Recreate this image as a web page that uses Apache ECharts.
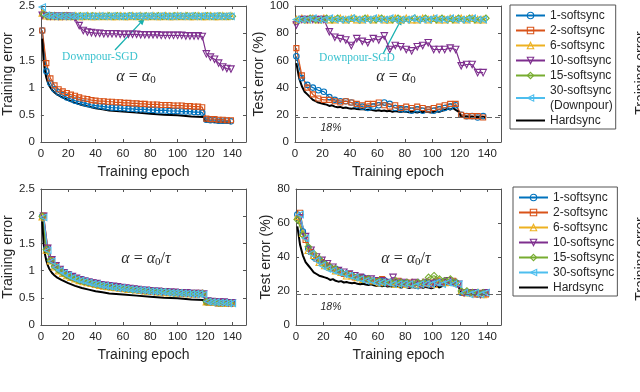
<!DOCTYPE html>
<html>
<head>
<meta charset="utf-8">
<script src="https://cdn.jsdelivr.net/npm/echarts@6/dist/echarts.min.js"></script>
<style>
html, body { margin: 0; padding: 0; background: #fff; }
#chart { width: 640px; height: 392px; }
</style>
</head>
<body>
<div id="chart"></div>
<script>
// epochs at which the softsync curves were sampled
const ep3 = [1,4,7,10,13,16,19,22,25,28,31,34,37,40,43,46,49,52,55,58,61,64,67,70,73,76,79,82,85,88,91,94,97,100,103,106,109,112,115,118,121,124,127,130,133,136,139];
const ep3s = [2,5,8,11,14,17,20,23,26,29,32,35,38,41,44,47,50,53,56,59,62,65,68,71,74,77,80,83,86,89,92,95,98,101,104,107,110,113,116,119,122,125,128,131,134,137,140];
const ep4 = [1,5,9,13,17,21,25,29,33,37,41,45,49,53,57,61,65,69,73,77,81,85,89,93,97,101,105,109,113,117,121,125,129,133,137];
const ep4s = [3,7,11,15,19,23,27,31,35,39,43,47,51,55,59,63,67,71,75,79,83,87,91,95,99,103,107,111,115,119,123,127,131,135,139];

// hardsync (same run in both rows)
const hsTrainEp = [1,2,3,4,5,6,8,10,12,15,20,25,30,35,40,45,50,60,70,80,90,100,110,119,120,125,130,135,139];
const hsTrain = [1.90,1.50,1.30,1.18,1.10,1.04,0.96,0.91,0.87,0.83,0.77,0.72,0.68,0.65,0.62,0.60,0.58,0.56,0.54,0.52,0.50,0.49,0.47,0.46,0.38,0.37,0.36,0.36,0.35];
const hsTestEp = [1,3,5,7,9,11,13,15,17,19,21,23,25,27,29,31,33,35,37,39,41,43,45,47,49,51,53,55,57,59,61,63,65,67,69,71,73,75,77,79,81,83,85,87,89,91,93,95,97,99,101,103,105,107,109,111,113,115,117,119,121,123,125,127,129,131,133,135,137,139];
const hsTest = [58,47,41,37,35,33,31,30,29,28.5, 28,27.5,26.5,27,26,25.5,25.8,25,25.3,24.8,
  24.5,24.8,24.2,24.0,24.3,23.8,23.5,23.9,23.3,23.0, 23.4,22.8,23.2,22.6,22.9,22.3,22.7,22.4,22.0,22.5,
  22.2,21.8,22.4,22.0,21.7,22.3,21.9,22.4,22.0,21.6, 22.2,22.6,22.1,22.9,23.5,24.5,23.8,25.0,23.6,22.4,
  18.6,18.4,18.7,18.3,18.5,18.2,18.4,18.1,18.3,18.2];
const targetErr = 18;

// training error, alpha = alpha0
const trA1 = [2.05,1.30,1.08,0.97,0.91,0.86,0.82,0.79,0.76,0.74, 0.72,0.70,0.68,0.67,0.66,0.65,0.64,0.63,0.63,0.62,
  0.62,0.61,0.61,0.60,0.60,0.60,0.59,0.59,0.58,0.58, 0.58,0.57,0.57,0.57,0.56,0.56,0.56,0.55,0.55,0.54, 0.41,0.40,0.40,0.39,0.39,0.39,0.38];
const trA2 = [2.05,1.45,1.17,1.04,0.97,0.93,0.90,0.87,0.85,0.82, 0.80,0.79,0.77,0.76,0.75,0.75,0.74,0.74,0.73,0.73,
  0.72,0.72,0.71,0.71,0.70,0.70,0.69,0.69,0.69,0.68, 0.68,0.68,0.67,0.67,0.67,0.66,0.66,0.65,0.65,0.64, 0.43,0.42,0.42,0.41,0.41,0.40,0.40];
const trA6 = [2.37,2.32,2.31,2.32,2.31,2.31,2.32,2.31,2.32,2.31, 2.31,2.32,2.31,2.31,2.32,2.31,2.32,2.31,2.31,2.32,
  2.31,2.31,2.32,2.31,2.32,2.31,2.31,2.32,2.31,2.31, 2.32,2.31,2.31,2.32,2.31,2.32,2.31,2.31,2.32,2.31, 2.31,2.32,2.31,2.31,2.32,2.31,2.32];
const trA10 = [2.33,2.32,2.31,2.31,2.31,2.31,2.31,2.31,2.28,2.14, 2.05,2.02,2.01,2.00,2.00,1.99,1.99,1.99,1.99,1.98,
  1.98,1.98,1.98,1.98,1.97,1.97,1.97,1.97,1.97,1.96, 1.96,1.96,1.96,1.96,1.96,1.95,1.95,1.95,1.95,1.94, 1.62,1.56,1.52,1.45,1.38,1.35,1.34];
const trA15 = [2.35,2.31,2.32,2.31,2.31,2.32,2.31,2.31,2.31,2.32, 2.31,2.31,2.32,2.31,2.31,2.31,2.32,2.31,2.32,2.31,
  2.31,2.32,2.31,2.31,2.31,2.32,2.31,2.31,2.32,2.31, 2.31,2.31,2.32,2.31,2.31,2.32,2.31,2.32,2.31,2.31, 2.32,2.31,2.31,2.32,2.31,2.31,2.31];
const trA30 = [2.48,2.33,2.32,2.31,2.32,2.31,2.31,2.32,2.31,2.31, 2.32,2.31,2.31,2.31,2.32,2.31,2.31,2.32,2.31,2.31,
  2.31,2.32,2.31,2.32,2.31,2.31,2.32,2.31,2.31,2.32, 2.31,2.31,2.31,2.32,2.31,2.31,2.32,2.31,2.31,2.32, 2.31,2.31,2.32,2.31,2.31,2.32,2.31];

// test error, alpha = alpha0
const teA1 = [63,47,42,40,38,37,33,31,30,30, 29,27,26,25,26,27,29,28,25,24, 24,23,24,23,24,23,24,25,26,27, 20,19,19,18,19];
const teA2 = [69,49,40,35,32,31,31,30,29,30, 29,28,27,28,28,29,27,26,27,25, 26,25,26,25,24,25,26,27,28,28, 20,19,19,19,18];
const teA6 = [90,91,90,91,90,91,90,90,91,90, 91,90,90,91,90,91,90,90,91,90, 91,90,90,91,90,91,90,90,91,90, 91,90,91,90,90];
const teA10 = [86,90,90,90,90,90,81,77,76,75, 71,76,74,73,76,75,78,68,71,70, 68,67,70,71,73,68,68,68,69,68, 56,57,57,51,51];
const teA15 = [90,90,91,90,90,91,90,91,90,90, 91,90,91,90,90,91,90,90,91,90, 90,91,90,91,90,90,91,90,90,91, 90,91,90,90,91];
const teA30 = [90,90,90,91,90,90,91,90,90,90, 91,90,90,90,91,90,90,91,90,90, 90,91,90,90,90,91,90,90,91,90, 90,90,91,90,90];

// training error, alpha = alpha0 / tau
const trB1 = [2.00,1.40,1.19,1.08,1.01,0.96,0.92,0.88,0.85,0.83, 0.81,0.79,0.77,0.75,0.74,0.72,0.71,0.70,0.69,0.68,
  0.67,0.66,0.65,0.65,0.64,0.63,0.62,0.62,0.61,0.61, 0.60,0.60,0.59,0.59,0.58,0.58,0.58,0.57,0.57,0.57, 0.44,0.43,0.42,0.42,0.41,0.41,0.40];
const trB2 = [2.01,1.42,1.20,1.09,1.02,0.97,0.93,0.89,0.86,0.83, 0.81,0.79,0.78,0.76,0.74,0.73,0.72,0.70,0.69,0.69,
  0.68,0.67,0.66,0.65,0.64,0.64,0.63,0.62,0.62,0.61, 0.61,0.60,0.60,0.59,0.59,0.58,0.58,0.58,0.57,0.57, 0.44,0.43,0.43,0.42,0.42,0.41,0.41];
const trB6 = [1.99,1.38,1.18,1.07,1.00,0.95,0.91,0.88,0.85,0.82, 0.80,0.78,0.77,0.75,0.73,0.72,0.71,0.70,0.69,0.68,
  0.67,0.66,0.66,0.65,0.64,0.63,0.63,0.62,0.61,0.61, 0.60,0.60,0.60,0.59,0.59,0.58,0.58,0.57,0.58,0.58, 0.43,0.43,0.42,0.41,0.41,0.40,0.40];
const trB10 = [2.00,1.41,1.20,1.09,1.02,0.96,0.92,0.89,0.86,0.83, 0.81,0.79,0.77,0.76,0.74,0.73,0.72,0.71,0.70,0.69,
  0.68,0.67,0.66,0.65,0.64,0.64,0.63,0.62,0.62,0.61, 0.61,0.60,0.60,0.59,0.59,0.59,0.58,0.58,0.58,0.57, 0.44,0.43,0.42,0.42,0.42,0.41,0.41];
const trB15 = [2.00,1.39,1.19,1.08,1.01,0.96,0.91,0.88,0.85,0.82, 0.80,0.78,0.77,0.75,0.74,0.72,0.71,0.70,0.69,0.68,
  0.67,0.66,0.65,0.65,0.64,0.63,0.63,0.62,0.61,0.61, 0.61,0.60,0.59,0.59,0.59,0.58,0.58,0.58,0.57,0.58, 0.43,0.43,0.42,0.41,0.41,0.41,0.40];
const trB30 = [1.98,1.37,1.17,1.06,1.00,0.95,0.91,0.87,0.84,0.82, 0.80,0.78,0.76,0.75,0.73,0.72,0.71,0.69,0.68,0.68,
  0.67,0.66,0.65,0.64,0.64,0.63,0.62,0.62,0.61,0.61, 0.60,0.59,0.59,0.59,0.58,0.58,0.57,0.57,0.57,0.56, 0.43,0.42,0.42,0.41,0.41,0.40,0.40];

// test error, alpha = alpha0 / tau
const teB1 = [65,55,45,40,38,36,34,33,31,30, 29,28,28,27,26,26,26,25,25,25, 25,24,25,24,25,25,25,26,25,25, 19,19,19,18,19];
const teB2 = [66,50,43,39,37,35,33,32,30,30, 28,28,27,26,26,27,25,25,26,24, 25,25,24,24,25,26,25,25,26,24, 19,19,18,19,18];
const teB6 = [64,54,44,41,37,35,34,32,31,29, 29,28,27,27,26,25,26,25,24,25, 24,25,24,25,25,24,26,25,26,25, 20,19,19,19,18];
const teB10 = [63,52,44,40,38,36,34,32,31,30, 29,28,27,27,26,26,25,28,25,25, 24,25,24,25,24,25,25,26,25,24, 19,19,19,18,19];
const teB15 = [62,53,46,42,39,36,34,33,31,30, 29,28,27,27,26,26,25,25,26,25, 25,24,25,25,28,29,27,26,27,25, 20,20,19,19,19];
const teB30 = [65,51,42,38,35,33,32,31,30,29, 28,27,26,26,25,25,25,24,24,24, 24,23,24,24,24,25,24,25,24,24, 19,18,19,18,19];

const xTicks = [0, 150, 20];

const TXT = '#262626';
const AX = '#555';
const SANS = 'Liberation Sans, Arial, sans-serif';
const SERIF = 'Liberation Serif, Times New Roman, serif';
const colors = {1:'#0072BD', 2:'#D95319', 6:'#EDB120', 10:'#7E2F8E', 15:'#77AC30', 30:'#4DBEEE'};
// symbol, rotation, size
const marks = {1:['circle',0,5.5], 2:['rect',0,5], 6:['triangle',0,6.5], 10:['triangle',180,6.5], 15:['diamond',0,6.5], 30:['triangle',90,6.5]};

function pairs(xs, ys) {
  return xs.map((x, i) => [x, ys[i]]);
}

function soft(k, name, g, xs, ys) {
  const c = colors[k], m = marks[k];
  return {
    type: 'line', name: name, xAxisIndex: g * 2, yAxisIndex: g * 2,
    data: pairs(xs, ys),
    symbol: m[0], symbolRotate: m[1], symbolSize: m[2], showAllSymbol: true,
    lineStyle: { color: c, width: 1.2 },
    itemStyle: { color: 'rgba(0,0,0,0)', borderColor: c, borderWidth: 1.1 },
    emphasis: { disabled: true }
  };
}

function hard(g, xs, ys, withTarget) {
  const s = {
    type: 'line', name: 'Hardsync', xAxisIndex: g * 2, yAxisIndex: g * 2,
    data: pairs(xs, ys), symbol: 'none',
    lineStyle: { color: '#000', width: 2 }, itemStyle: { color: '#000' },
    emphasis: { disabled: true }, z: 3
  };
  if (withTarget) {
    s.markLine = {
      silent: true, symbol: 'none', label: { show: false },
      lineStyle: { color: '#666', type: [5, 3], width: 1.2 },
      data: [{ yAxis: targetErr }]
    };
  }
  return s;
}

const grids = [
  { left: 39, top: 5, width: 207, height: 137 },
  { left: 295, top: 5, width: 206, height: 137 },
  { left: 39, top: 189, width: 207, height: 136 },
  { left: 296, top: 189, width: 205, height: 136 }
];

const xAxes = [], yAxes = [];
function addAxes(g, ymax, yint, yname, ygap) {
  const line = { show: true, onZero: false, lineStyle: { color: AX, width: 1 } };
  const tick = { show: true, inside: true, length: 3, lineStyle: { color: AX } };
  xAxes.push({
    gridIndex: g, type: 'value', min: xTicks[0], max: xTicks[1], interval: xTicks[2],
    name: 'Training epoch', nameLocation: 'middle', nameGap: 23,
    nameTextStyle: { fontSize: 14, color: TXT, fontFamily: SANS },
    axisLine: line, axisTick: tick, splitLine: { show: false },
    axisLabel: { fontSize: 11.5, color: TXT, fontFamily: SANS, margin: 6, showMaxLabel: false }
  });
  xAxes.push({
    gridIndex: g, type: 'value', position: 'top', min: xTicks[0], max: xTicks[1], interval: xTicks[2],
    axisLine: line, axisTick: tick, splitLine: { show: false }, axisLabel: { show: false }
  });
  yAxes.push({
    gridIndex: g, type: 'value', min: 0, max: ymax, interval: yint,
    name: yname, nameLocation: 'middle', nameGap: ygap,
    nameTextStyle: { fontSize: 14, color: TXT, fontFamily: SANS },
    axisLine: line, axisTick: tick, splitLine: { show: false },
    axisLabel: { fontSize: 11.5, color: TXT, fontFamily: SANS, margin: 6 }
  });
  yAxes.push({
    gridIndex: g, type: 'value', position: 'right', min: 0, max: ymax, interval: yint,
    axisLine: line, axisTick: tick, splitLine: { show: false }, axisLabel: { show: false }
  });
}
addAxes(0, 2.5, 0.5, 'Training error', 24);
addAxes(1, 100, 20, 'Test error (%)', 29);
addAxes(2, 2.5, 0.5, 'Training error', 24);
addAxes(3, 80, 20, 'Test error (%)', 22);

const dn = '30-softsync\n(Downpour)';
const series = [
  soft(1, '1-softsync', 0, ep3, trA1),
  soft(2, '2-softsync', 0, ep3, trA2),
  soft(6, '6-softsync', 0, ep3, trA6),
  soft(10, '10-softsync', 0, ep3, trA10),
  soft(15, '15-softsync', 0, ep3s, trA15),
  soft(30, dn, 0, ep3, trA30),
  hard(0, hsTrainEp, hsTrain, false),

  soft(1, '1-softsync', 1, ep4, teA1),
  soft(2, '2-softsync', 1, ep4, teA2),
  soft(6, '6-softsync', 1, ep4, teA6),
  soft(10, '10-softsync', 1, ep4, teA10),
  soft(15, '15-softsync', 1, ep4s, teA15),
  soft(30, dn, 1, ep4, teA30),
  hard(1, hsTestEp, hsTest, true),

  soft(1, '1-softsync', 2, ep3, trB1),
  soft(2, '2-softsync', 2, ep3s, trB2),
  soft(6, '6-softsync', 2, ep3, trB6),
  soft(10, '10-softsync', 2, ep3s, trB10),
  soft(15, '15-softsync', 2, ep3, trB15),
  soft(30, '30-softsync', 2, ep3s, trB30),
  hard(2, hsTrainEp, hsTrain, false),

  soft(1, '1-softsync', 3, ep4, teB1),
  soft(2, '2-softsync', 3, ep4s, teB2),
  soft(6, '6-softsync', 3, ep4, teB6),
  soft(10, '10-softsync', 3, ep4s, teB10),
  soft(15, '15-softsync', 3, ep4, teB15),
  soft(30, '30-softsync', 3, ep4s, teB30),
  hard(3, hsTestEp, hsTest, true)
];

function legendFor(names, left, top) {
  return {
    data: names.map(n => n === 'Hardsync' ? { name: n, itemStyle: { opacity: 0 } } : n),
    orient: 'vertical', left: left, top: top, padding: [3, 3, 1, 5],
    itemWidth: 29, itemHeight: 8, itemGap: 0,
    itemStyle: { borderWidth: 1.1 },
    borderColor: '#555', borderWidth: 1, borderRadius: 0,
    selectedMode: false,
    textStyle: { fontSize: 12, lineHeight: 15, color: TXT, fontFamily: SANS }
  };
}
const base = ['1-softsync', '2-softsync', '6-softsync', '10-softsync', '15-softsync'];

function arrow(x1, y1, x2, y2, color) {
  const dx = x2 - x1, dy = y2 - y1, L = Math.hypot(dx, dy);
  const ux = dx / L, uy = dy / L, h = 7, w = 3;
  const bx = x2 - ux * h, by = y2 - uy * h;
  return [
    { type: 'line', shape: { x1: x1, y1: y1, x2: bx, y2: by }, style: { stroke: color, lineWidth: 1.3 } },
    { type: 'polygon', shape: { points: [[x2, y2], [bx - uy * w, by + ux * w], [bx + uy * w, by - ux * w]] }, style: { fill: color } }
  ];
}

function txt(x, y, text, extra) {
  return {
    type: 'text', x: x, y: y, z: 100,
    style: Object.assign({ text: text, align: 'center', verticalAlign: 'middle', fill: TXT, fontSize: 14, fontFamily: SANS }, extra || {})
  };
}

const mathRich = {
  i: { fontStyle: 'italic', fontFamily: SERIF, fontSize: 16, fill: TXT },
  s: { fontFamily: SERIF, fontSize: 11, fill: TXT, padding: [7, 0, 0, 0] }
};
const dpColor = '#3CC3CF', arColor = '#17B0B0';

const graphic = [
  txt(136, 77, '{i|α} = {i|α}{s|0}', { fontFamily: SERIF, fontSize: 16, rich: mathRich }),
  txt(396, 77, '{i|α} = {i|α}{s|0}', { fontFamily: SERIF, fontSize: 16, rich: mathRich }),
  txt(146, 259, '{i|α} = {i|α}{s|0}/{i|τ}', { fontFamily: SERIF, fontSize: 16, rich: mathRich }),
  txt(406, 259, '{i|α} = {i|α}{s|0}/{i|τ}', { fontFamily: SERIF, fontSize: 16, rich: mathRich }),
  txt(100, 57, 'Downpour-SGD', { fill: dpColor, fontFamily: SERIF, fontSize: 11.5 }),
  txt(357, 58, 'Downpour-SGD', { fill: dpColor, fontFamily: SERIF, fontSize: 11.5 }),
  txt(331, 128, '18%', { fontSize: 10.5, fontStyle: 'italic' }),
  txt(331, 307, '18%', { fontSize: 10.5, fontStyle: 'italic' }),
  Object.assign(txt(641, 73, 'Training error'), { rotation: Math.PI / 2 }),
  Object.assign(txt(641, 259, 'Training error'), { rotation: Math.PI / 2 })
].concat(arrow(115, 50, 145, 18, arColor), arrow(383, 54, 402, 18, arColor));

const chart = echarts.init(document.getElementById('chart'), null, { renderer: 'canvas' });
chart.setOption({
  animation: false,
  backgroundColor: '#fff',
  textStyle: { fontFamily: SANS },
  grid: grids,
  xAxis: xAxes,
  yAxis: yAxes,
  legend: [
    legendFor(base.concat([dn, 'Hardsync']), 510, 5),
    legendFor(base.concat(['30-softsync', 'Hardsync']), 513, 187)
  ],
  graphic: graphic,
  series: series
});
</script>
</body>
</html>
